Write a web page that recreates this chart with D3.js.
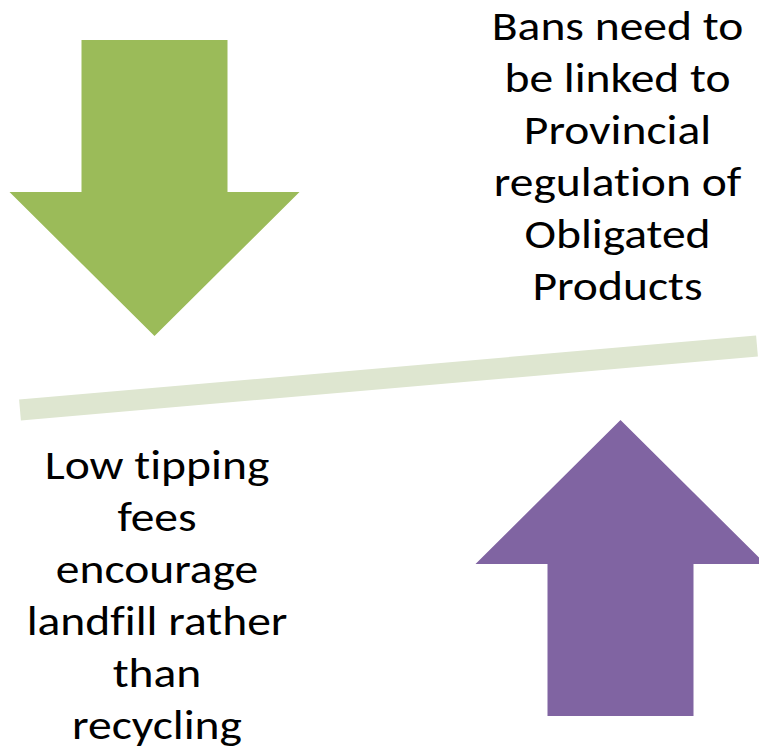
<!DOCTYPE html>
<html>
<head>
<meta charset="utf-8">
<script src="https://cdn.jsdelivr.net/npm/d3@7"></script>
<style>
  html, body { margin: 0; padding: 0; background: #fff; }
  svg { display: block; }
  text { font-variant-ligatures: none; }
</style>
</head>
<body>
<svg class="canvas"></svg>
<script>
// text blocks on each side of the balance line
let topRightLines = ["Bans need to", "be linked to", "Provincial", "regulation of", "Obligated", "Products"];
let bottomLeftLines = ["Low tipping", "fees", "encourage", "landfill rather", "than", "recycling"];

// arrow directions: the green one pushes down, the purple one pushes up
let arrowNames = ["down", "up"];

let width = 759;
let height = 752;

let canvas = d3.select('.canvas')
  .attr('width', width)
  .attr('height', height);

// arrow shape, relative to its centre line
let shaftHalf = 73;
let headHalf = 145;
let shaftLen = 152;
let headLen = 144;

let arrowPath = (cx, tipY, dir) => {
  let s = dir === 'down' ? -1 : 1;   // direction from tip back to tail
  let baseY = tipY + s * headLen;
  let tailY = baseY + s * shaftLen;
  let pts = [
    [cx, tipY],
    [cx + headHalf, baseY],
    [cx + shaftHalf, baseY],
    [cx + shaftHalf, tailY],
    [cx - shaftHalf, tailY],
    [cx - shaftHalf, baseY],
    [cx - headHalf, baseY]
  ];
  return d3.line()(pts) + 'Z';
};

let arrowPlace = {
  down: { cx: 154.5, tipY: 336, color: '#9bbb59' },
  up:   { cx: 620.5, tipY: 420, color: '#8064a2' }
};

// balance line
canvas.append('line')
  .attr('x1', 20).attr('y1', 410)
  .attr('x2', 757).attr('y2', 346)
  .attr('stroke', '#dee6d0')
  .attr('stroke-width', 21)
  .attr('stroke-linecap', 'butt');

canvas.selectAll('path.arrow')
  .data(arrowNames)
  .enter()
  .append('path')
  .attr('class', 'arrow')
  .attr('d', d => arrowPath(arrowPlace[d].cx, arrowPlace[d].tipY, d))
  .attr('fill', d => arrowPlace[d].color);

let fontStack = 'Calibri, Carlito, Lato, "Open Sans", sans-serif';
// Lato is narrower than the slide font, widen the glyphs a bit
let stretch = 1.16;

let drawBlock = (lines, cx, firstBase, pitch) => {
  canvas.append('g')
    .selectAll('text')
    .data(lines)
    .enter()
    .append('text')
    .attr('transform', (d, i) => `translate(${cx},${firstBase + i * pitch}) scale(${stretch},1)`)
    .attr('text-anchor', 'middle')
    .attr('font-family', fontStack)
    .attr('font-size', 41)
    .attr('fill', '#000')
    .text(d => d);
};

drawBlock(topRightLines, 617.5, 40, 52);
drawBlock(bottomLeftLines, 157, 479, 52);
</script>
</body>
</html>
